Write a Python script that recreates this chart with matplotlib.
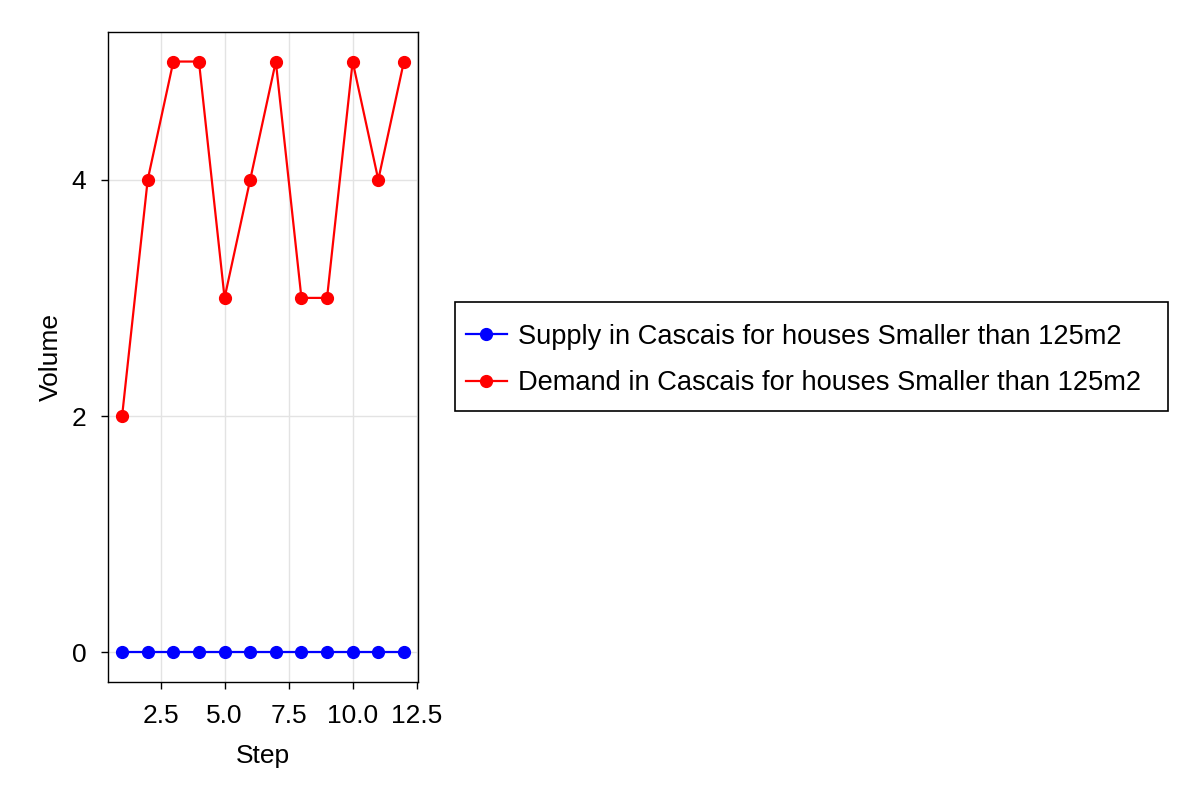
import matplotlib
matplotlib.use("Agg")
import matplotlib.pyplot as plt
from matplotlib.patches import Rectangle

plt.rcParams['font.family'] = ['Liberation Sans', 'DejaVu Sans']

steps = [1, 2, 3, 4, 5, 6, 7, 8, 9, 10, 11, 12]
supply = [0, 0, 0, 0, 0, 0, 0, 0, 0, 0, 0, 0]
demand = [2, 4, 5, 5, 3, 4, 5, 3, 3, 5, 4, 5]
xticks = [2.5, 5.0, 7.5, 10.0, 12.5]
yticks = [0, 2, 4]

fig = plt.figure(figsize=(12, 8), dpi=100)
ax = fig.add_axes([108/1200, 1 - 682/800, 310/1200, 650/800])

ax.plot(steps, supply, color='blue', lw=1.6, marker='o', ms=8.5,
        label='Supply in Cascais for houses Smaller than 125m2')
ax.plot(steps, demand, color='red', lw=1.6, marker='o', ms=8.5,
        label='Demand in Cascais for houses Smaller than 125m2')

ax.set_xlim(0.45, 12.55)
ax.set_ylim(-0.25, 5.25)
ax.set_xticks(xticks)
ax.set_xticklabels(['%.1f' % v for v in xticks])
ax.set_yticks(yticks)
ax.grid(True, color='#e3e3e3', lw=1.0)
ax.set_axisbelow(True)
for s in ax.spines.values():
    s.set_linewidth(1.0)
ax.tick_params(labelsize=19, length=5, width=1.0, direction='out', pad=10.5)
ax.set_xlabel('Step', fontsize=19, labelpad=12)
ax.set_ylabel('Volume', fontsize=19, labelpad=6.5)

# legend without its own frame, the box is drawn separately (Makie-like padding)
leg = fig.legend(loc='center left', bbox_to_anchor=(466/1200, 1 - 360/800),
                 fontsize=19.6, frameon=False,
                 handlelength=1.5, handletextpad=0.42, borderpad=0,
                 labelspacing=0.75, borderaxespad=0)
fig.patches.append(Rectangle((455/1200, 1 - 411/800), 713/1200, 109/800,
                             transform=fig.transFigure, fill=False,
                             edgecolor='black', lw=1.2))

fig.savefig('out.png', dpi=100)
